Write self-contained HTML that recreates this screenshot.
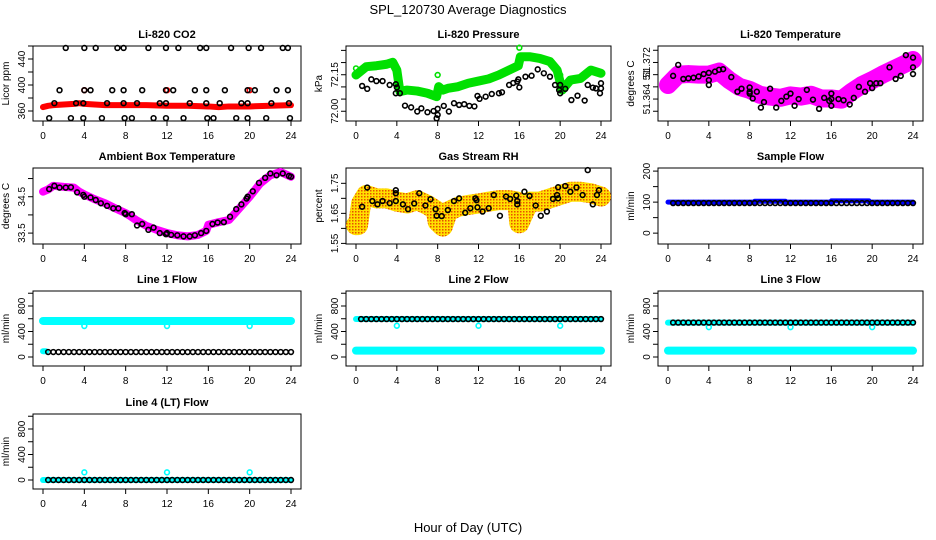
<!DOCTYPE html>
<html><head><meta charset="utf-8"><style>
html,body{margin:0;padding:0;background:#fff;}
svg{display:block;font-family:"Liberation Sans",Arial,sans-serif;}
</style></head><body>
<svg id="chart" width="936" height="540" viewBox="0 0 936 540" xmlns="http://www.w3.org/2000/svg">
<defs>
<pattern id="rhpat" width="3" height="3" patternUnits="userSpaceOnUse">
<rect width="3" height="3" fill="#ffe000"/><rect x="1" y="1" width="1.5" height="1.5" fill="#e85000"/>
</pattern>
</defs>
<rect width="936" height="540" fill="#fff"/>
<text x="468" y="14" font-size="13" text-anchor="middle">SPL_120730  Average Diagnostics</text>
<text x="468" y="532" font-size="13" text-anchor="middle">Hour of Day (UTC)</text>
</svg>
<script>
// ---------- DATA ----------
const xTicks = [0,4,8,12,16,20,24];
const halfHours = [0.5,1,1.5,2,2.5,3,3.5,4,4.5,5,5.5,6,6.5,7,7.5,8,8.5,9,9.5,10,10.5,11,11.5,12,12.5,13,13.5,14,14.5,15,15.5,16,16.5,17,17.5,18,18.5,19,19.5,20,20.5,21,21.5,22,22.5,23,23.5,24];

// CO2
const co2BandHours = [0,0.5,1,2,3,3.5,4,5,6,8,10,12,14,16,17,18,20,22,24];
const co2BandVals  = [366,368,369,370,371,372,371,370,369,369,369,368,368,367,366,367,367,368,369];
const co2CircHours = [2.2,4.0,5.1,7.2,7.8,10.2,11.9,13.1,15.2,15.8,18.2,19.9,21.1,23.2,23.7,
  1.6,4,4.6,6.7,7.8,9.6,11.9,12.6,14.7,15.8,17.6,19.8,20.5,22.6,23.7,
  1.1,3.2,3.9,6.2,7.8,9.1,11.3,11.9,14.2,15.8,17.1,19.2,19.8,22.1,23.8,
  0.6,2.7,3.9,5.7,7.9,8.6,10.7,11.9,13.6,15.9,16.5,18.7,19.8,21.6,23.9];
const co2CircVals = [457,457,457,457,457,457,457,457,457,457,457,457,457,457,457,
  392,392,392,392,392,392,392,392,392,392,392,392,392,392,392,
  372,372,372,372,372,372,372,372,372,372,372,372,372,372,372,
  349,349,349,349,349,349,349,349,349,349,349,349,349,349,349];
const co2RedHours = [4,12,20];
const co2RedVals = [392,392,392];

// Pressure
const presBandHours = [0,1,2,3,3.6,4,4.3,5,6,7,7.9,8.1,8.5,9,10,11,12,13,14,15,15.9,16.1,17,18,19,19.7,20.2,21,22,23,24];
const presBandVals = [72.149,72.183,72.187,72.193,72.201,72.169,72.081,72.087,72.083,72.074,72.060,72.101,72.087,72.094,72.101,72.115,72.124,72.133,72.149,72.169,72.187,72.224,72.224,72.217,72.204,72.169,72.087,72.128,72.135,72.169,72.156];
const presGreenHours = [16,0,4,8,20];
const presGreenVals = [72.261,72.176,72.149,72.149,72.149];
const presCircHours = [0.6,1.1,1.5,2,2.6,3.3,3.9,4,3.9,4.3,4.8,5.4,6,6.4,7,7.6,8,7.9,8,8.6,9.1,9.6,10.1,10.6,11.1,11.6,11.9,12.1,12.7,13.3,14,14.3,15,15.4,15.8,16,15.9,16.6,17.2,17.8,18.4,19,19.5,20,19.9,20,20.5,21.1,21.7,22.4,22.7,23.2,23.5,24,24,23.9];
const presCircVals = [72.104,72.092,72.131,72.124,72.124,72.108,72.111,72.098,72.074,72.074,72.023,72.016,71.999,72.012,71.996,72.001,71.985,71.971,72.010,72.022,71.999,72.033,72.026,72.029,72.022,72.020,72.063,72.051,72.060,72.071,72.074,72.078,72.108,72.116,72.122,72.098,72.131,72.142,72.146,72.172,72.156,72.142,72.108,72.108,72.087,72.074,72.092,72.046,72.064,72.044,72.108,72.097,72.094,72.115,72.094,72.074];

// Li-820 temperature
const tempBandHours = [0,1,2,3,4,5,6,7,8,9,10,11,12,13,14,15,16,17,18,19,20,21,22,23,24];
const tempBandVals = [51.3663,51.3680,51.3681,51.3680,51.3680,51.3685,51.3671,51.3660,51.3655,51.3647,51.3644,51.3642,51.3646,51.3644,51.3647,51.3641,51.3641,51.3639,51.3652,51.3663,51.3671,51.3680,51.3688,51.3696,51.3704];
const tempCircHours = [0.5,1,1.5,2,2.5,3,3.5,4,4,4,4.6,5,5.4,6.2,6.8,7.2,8,8,8,8.3,8.7,9.1,9.4,10,10.6,11.1,11.6,12,12.4,12.8,13.6,14.2,14.8,15.3,15.8,16,16,16,16.7,17.2,17.8,18.2,18.7,19.3,19.8,20,20.4,20.8,21.7,22.3,22.8,23.3,24,24,24];
const tempCircVals = [51.3678,51.3696,51.3673,51.3674,51.3675,51.3677,51.3681,51.3671,51.3683,51.3663,51.3685,51.3688,51.3689,51.3676,51.3652,51.3657,51.3659,51.3652,51.3649,51.3641,51.3652,51.3626,51.3635,51.3657,51.3626,51.3637,51.3644,51.3649,51.3629,51.3640,51.3655,51.3639,51.3624,51.3642,51.3637,51.3640,51.3629,51.3649,51.3640,51.3638,51.3631,51.3642,51.3660,51.3652,51.3666,51.3658,51.3666,51.3666,51.3692,51.3673,51.3678,51.3712,51.3692,51.3708,51.3681];

// Ambient box temperature
const ambBandHours = [0,0.5,1,2,3,3.5,4,5,6,7,8,9,10,11,12,13,14,15,15.8,16,17,18,19,20,21,22,23,24];
const ambBandVals = [34.64,34.70,34.80,34.77,34.75,34.64,34.56,34.43,34.32,34.18,34.05,33.86,33.70,33.59,33.50,33.44,33.41,33.45,33.56,33.73,33.80,33.86,34.18,34.50,34.86,35.09,35.18,35.05];
const ambCircHours = [0.6,1.1,1.6,2.2,2.7,3.3,3.9,4,4.6,5.1,5.6,6.2,6.8,7.3,7.9,8,8.6,9.1,9.6,10.2,10.7,11.3,11.9,12,12.4,13,13.6,14.2,14.7,15.3,15.8,16.4,16.9,17.5,18.1,18.7,19.2,19.7,19.8,20.3,20.9,21.5,22,22.6,23.2,23.8,24];
const ambCircVals = [34.71,34.80,34.75,34.75,34.76,34.62,34.55,34.50,34.48,34.41,34.32,34.25,34.18,34.18,34.05,34.02,34.02,33.71,33.75,33.59,33.65,33.50,33.47,33.50,33.45,33.44,33.41,33.41,33.44,33.50,33.56,33.75,33.79,33.80,33.95,34.16,34.29,34.45,34.50,34.65,34.88,35.02,35.14,35.09,35.14,35.07,35.05];

// Gas stream RH
const rhBandHours = [0,0.2,0.5,1,2,3,4,5,6,7,7.8,8,8.5,9,10,11,12,13,14,15,15.8,16,16.5,17,18,19,20,21,22,23,24];
const rhBandVals = [1.611,1.611,1.683,1.711,1.700,1.700,1.689,1.683,1.694,1.678,1.661,1.622,1.606,1.656,1.672,1.678,1.683,1.689,1.694,1.694,1.689,1.617,1.656,1.689,1.689,1.700,1.711,1.722,1.722,1.717,1.706];
const rhCircHours = [0.6,1.1,1.6,2.1,2.6,3.3,3.9,3.9,3.9,4.6,5.1,5.7,6.2,6.8,7.3,7.8,7.9,8.4,9,9.6,10.1,10.7,11.2,11.7,11.8,11.9,12.4,13,13.5,14.1,14.7,15.1,15.7,15.8,15.8,16.5,17,17.6,18.1,18.7,19.3,19.7,19.8,19.8,20.5,21,21.6,22.2,22.7,23.2,23.6,23.8];
const rhCircVals = [1.672,1.736,1.691,1.680,1.691,1.684,1.727,1.717,1.691,1.680,1.664,1.683,1.717,1.676,1.697,1.664,1.642,1.641,1.661,1.691,1.700,1.652,1.667,1.700,1.694,1.670,1.656,1.667,1.711,1.642,1.706,1.698,1.709,1.691,1.680,1.722,1.708,1.676,1.642,1.656,1.698,1.711,1.737,1.700,1.741,1.722,1.736,1.711,1.794,1.680,1.711,1.727];

// Sample flow
const sampleBandHours = [0,8.5,8.5,11.5,11.5,16,16,19.7,19.7,24];
const sampleBandVals = [100,100,103,103,100,100,104,104,100,100];
const sampleCircVals = [97,97,97,97,97,97,97,97,97,97,97,97,97,97,97,97,97,97,97,97,97,97,97,97,97,97,97,97,97,97,97,97,97,97,97,97,97,97,97,97,97,97,97,97,97,97,97,97];

// Line flows
const flowOutlierHours = [4,12,20];
const line1UpperHours = [0,24]; const line1UpperVals = [565,565];
const line1LowerHours = [0,0.3]; const line1LowerVals = [90,90];
const line1OutlierVals = [486,486,486];
const line1CircVals = [78,78,78,78,78,78,78,78,78,78,78,78,78,78,78,78,78,78,78,78,78,78,78,78,78,78,78,78,78,78,78,78,78,78,78,78,78,78,78,78,78,78,78,78,78,78,78,78];
const line2UpperHours = [0,24]; const line2UpperVals = [595,595];
const line2LowerHours = [0,24]; const line2LowerVals = [100,100];
const line2OutlierVals = [490,490,490];
const line2CircVals = [595,595,595,595,595,595,595,595,595,595,595,595,595,595,595,595,595,595,595,595,595,595,595,595,595,595,595,595,595,595,595,595,595,595,595,595,595,595,595,595,595,595,595,595,595,595,595,595];
const line3UpperHours = [0,24]; const line3UpperVals = [540,540];
const line3LowerHours = [0,24]; const line3LowerVals = [100,100];
const line3OutlierVals = [468,468,468];
const line3CircVals = [540,540,540,540,540,540,540,540,540,540,540,540,540,540,540,540,540,540,540,540,540,540,540,540,540,540,540,540,540,540,540,540,540,540,540,540,540,540,540,540,540,540,540,540,540,540,540,540];
const line4BandHours = [0,24]; const line4BandVals = [0,0];
const line4OutlierVals = [120,120,120];
const line4CircVals = [0,0,0,0,0,0,0,0,0,0,0,0,0,0,0,0,0,0,0,0,0,0,0,0,0,0,0,0,0,0,0,0,0,0,0,0,0,0,0,0,0,0,0,0,0,0,0,0];

// ---------- DRAWING ----------
const NS = "http://www.w3.org/2000/svg";
const svg = document.getElementById('chart');
function mk(tag, parent){ const e=document.createElementNS(NS,tag); parent.appendChild(e); return e; }
const cols = [{x0:43,x24:291},{x0:356,x24:601},{x0:668,x24:913}];
const rows = [{top:46,h:75},{top:168,h:76},{top:291,h:75},{top:414,h:75}];

function panel(name, col, row, title, ylab, ymin, ymax, yTicks, yLabels){
  const c = cols[col], r = rows[row];
  const left=c.x0-10, right=c.x24+10, top=r.top, bottom=r.top+r.h;
  const g = mk('g', svg);
  
  
  const sx = h => c.x0 + (c.x24-c.x0)*h/24;
  const sy = v => bottom - (v-ymin)/(ymax-ymin)*(bottom-top);
  const box = mk('rect', g);
  
  
  box.setAttribute('x',left); box.setAttribute('y',top); box.setAttribute('width',right-left); box.setAttribute('height',bottom-top);
  box.setAttribute('fill','none'); box.setAttribute('stroke','#000'); box.setAttribute('stroke-width','1');
  const t = mk('text', g);
  
  
  t.setAttribute('x',(left+right)/2); t.setAttribute('y',top-8); t.setAttribute('text-anchor','middle');
  t.setAttribute('font-size','11'); t.setAttribute('font-weight','bold'); t.textContent = title;
  const yl = mk('text', g);
  
  
  const ymid=(top+bottom)/2;
  yl.setAttribute('transform',`translate(${left-24},${ymid}) rotate(-90)`);
  yl.setAttribute('text-anchor','middle'); yl.setAttribute('font-size','10'); yl.textContent = ylab;
  xTicks.forEach(h=>{
    const tk = mk('line', g);
    
    
    tk.setAttribute('x1',sx(h)); tk.setAttribute('x2',sx(h)); tk.setAttribute('y1',bottom); tk.setAttribute('y2',bottom+5); tk.setAttribute('stroke','#000');
    const tl = mk('text', g);
    
    
    tl.setAttribute('x',sx(h)); tl.setAttribute('y',bottom+18); tl.setAttribute('text-anchor','middle'); tl.setAttribute('font-size','10');
    tl.textContent = String(h);
  });
  yTicks.forEach((v,i)=>{
    const tk = mk('line', g);
    
    
    tk.setAttribute('x1',left-5); tk.setAttribute('x2',left); tk.setAttribute('y1',sy(v)); tk.setAttribute('y2',sy(v)); tk.setAttribute('stroke','#000');
    if (yLabels[i]) {
      const tl = mk('text', g);
      
      
      tl.setAttribute('transform',`translate(${left-8},${sy(v)}) rotate(-90)`);
      tl.setAttribute('text-anchor','middle'); tl.setAttribute('font-size','10');
      tl.textContent = yLabels[i];
    }
  });
  return {g, sx, sy};
}

function band(p, hours, vals, color, width, nm){
  const pl = mk('polyline', p.g);
  
  
  pl.setAttribute('points', hours.map((h,i)=>p.sx(h)+','+p.sy(vals[i])).join(' '));
  pl.setAttribute('fill','none'); pl.setAttribute('stroke',color); pl.setAttribute('stroke-width',width);
  pl.setAttribute('stroke-linejoin','round'); pl.setAttribute('stroke-linecap','round');
}
function circles(p, hours, vals, color, nm){
  hours.forEach((h,i)=>{
    const c = mk('circle', p.g);
    
    
    c.setAttribute('cx',p.sx(h)); c.setAttribute('cy',p.sy(vals[i])); c.setAttribute('r','2.4');
    c.setAttribute('fill','none'); c.setAttribute('stroke',color); c.setAttribute('stroke-width','1.6');
  });
}

// CO2
let p = panel('co2-panel',0,0,'Li-820 CO2','Licor ppm',344.6,460,[360,380,400,420,440,460],['360','','400','','440','']);
band(p,co2BandHours,co2BandVals,'#ff0000',6,'co2-band');
circles(p,co2RedHours,co2RedVals,'#ff0000','co2-red-point');
circles(p,co2CircHours,co2CircVals,'#000','co2-point');

// Pressure
p = panel('pressure-panel',1,0,'Li-820 Pressure','kPa',71.960,72.268,[72.00,72.05,72.10,72.15,72.20,72.25],['72.00','','','72.15','','']);
band(p,presBandHours,presBandVals,'#00e000',9,'pressure-band');
circles(p,presGreenHours,presGreenVals,'#00e000','pressure-green-point');
circles(p,presCircHours,presCircVals,'#000','pressure-point');

// Temperature
p = panel('li820-temp-panel',2,0,'Li-820 Temperature','degrees C',51.3604,51.3727,[51.362,51.364,51.366,51.368,51.370,51.372],['','51.364','','51','51.372','']);
band(p,tempBandHours,tempBandVals,'#ff00ff',18,'temp-band');
circles(p,tempCircHours,tempCircVals,'#000','temp-point');

// Ambient
p = panel('ambient-temp-panel',0,1,'Ambient Box Temperature','degrees C',33.2,35.29,[33.5,34.0,34.5,35.0],['33.5','','34.5','']);
band(p,ambBandHours,ambBandVals,'#ff00ff',8,'ambient-band');
circles(p,ambCircHours,ambCircVals,'#000','ambient-point');

// RH
p = panel('rh-panel',1,1,'Gas Stream RH','percent',1.548,1.801,[1.55,1.60,1.65,1.70,1.75],['1.55','','1.65','','1.75']);
band(p,rhBandHours,rhBandVals,'url(#rhpat)',20,'rh-band');
circles(p,rhCircHours,rhCircVals,'#000','rh-point');

// Sample flow
p = panel('sample-flow-panel',2,1,'Sample Flow','ml/min',-35,210,[0,50,100,150,200],['0','','100','','200']);
band(p,sampleBandHours,sampleBandVals,'#0000ff',5,'sample-band');
circles(p,halfHours,sampleCircVals,'#000','sample-point');

const flowTicks=[0,200,400,600,800,1000], flowLabels=['0','','400','','800',''];
// Line 1
p = panel('line1-flow-panel',0,2,'Line 1 Flow','ml/min',-141,1035,flowTicks,flowLabels);
band(p,line1UpperHours,line1UpperVals,'#00ffff',8,'line1-upper-band');
band(p,line1LowerHours,line1LowerVals,'#00ffff',6,'line1-lower-band');
circles(p,flowOutlierHours,line1OutlierVals,'#00ffff','line1-outlier');
circles(p,halfHours,line1CircVals,'#000','line1-point');
// Line 2
p = panel('line2-flow-panel',1,2,'Line 2 Flow','ml/min',-141,1035,flowTicks,flowLabels);
band(p,line2UpperHours,line2UpperVals,'#00ffff',6,'line2-upper-band');
band(p,line2LowerHours,line2LowerVals,'#00ffff',8,'line2-lower-band');
circles(p,flowOutlierHours,line2OutlierVals,'#00ffff','line2-outlier');
circles(p,halfHours,line2CircVals,'#000','line2-point');
// Line 3
p = panel('line3-flow-panel',2,2,'Line 3 Flow','ml/min',-141,1035,flowTicks,flowLabels);
band(p,line3UpperHours,line3UpperVals,'#00ffff',6,'line3-upper-band');
band(p,line3LowerHours,line3LowerVals,'#00ffff',8,'line3-lower-band');
circles(p,flowOutlierHours,line3OutlierVals,'#00ffff','line3-outlier');
circles(p,halfHours,line3CircVals,'#000','line3-point');
// Line 4
p = panel('line4-flow-panel',0,3,'Line 4 (LT) Flow','ml/min',-141,1035,flowTicks,flowLabels);
band(p,line4BandHours,line4BandVals,'#00ffff',6,'line4-band');
circles(p,flowOutlierHours,line4OutlierVals,'#00ffff','line4-outlier');
circles(p,halfHours,line4CircVals,'#000','line4-point');
</script>
</body></html>
